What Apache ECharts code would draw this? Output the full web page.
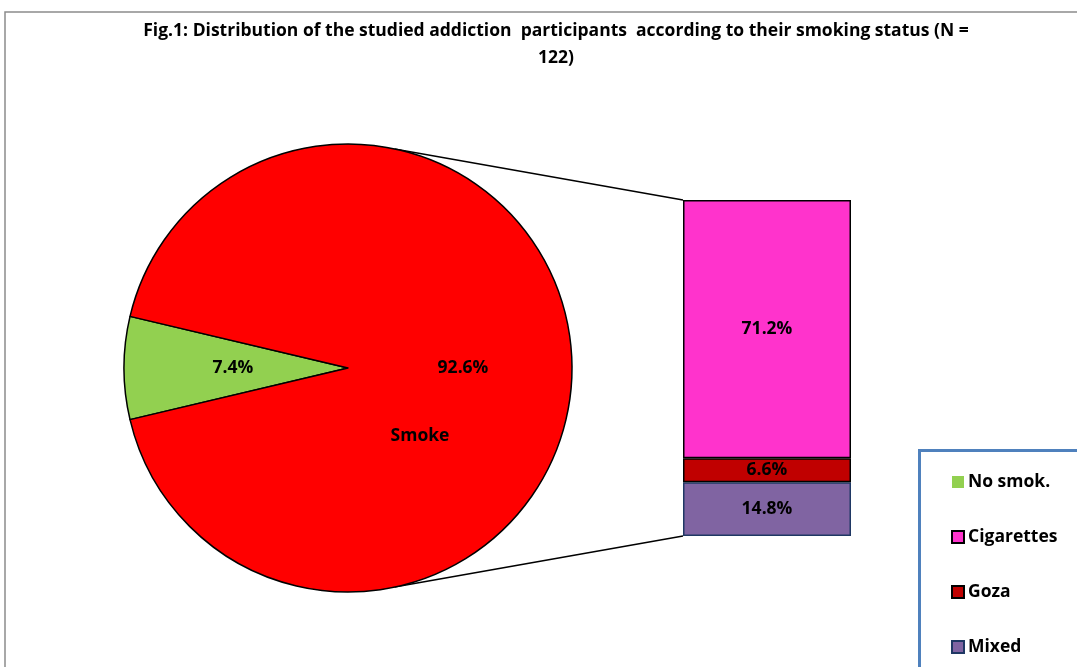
<!DOCTYPE html>
<html>
<head>
<meta charset="utf-8">
<script src="https://cdn.jsdelivr.net/npm/echarts@6/dist/echarts.min.js"></script>
<style>
  html, body { margin: 0; padding: 0; background: #fff; }
  #main { width: 1077px; height: 667px; }
</style>
</head>
<body>
<div id="main"></div>
<script>
// data
const pieNames = ['No smok.', 'Smoke'];
const pieValues = [7.4, 92.6];
const pieColors = ['#92D050', '#FF0000'];

// breakdown of the "Smoke" slice, listed bottom to top
const barNames = ['Mixed', 'Goza', 'Cigarettes'];
const barValues = [14.8, 6.6, 71.2];
const barColors = ['#8064A2', '#C00000', '#FF33CC'];
const barBorders = ['#1F3864', '#000000', '#000000'];

const legendOrder = ['No smok.', 'Cigarettes', 'Goza', 'Mixed'];

const FONT = '"Open Sans"';
const center = [348, 368];
const radius = 224;
const barRect = { left: 683, right: 851, top: 200, bottom: 536 };

const smokeTotal = barValues.reduce((a, b) => a + b, 0);
// green slice sits centred on the left side
const startAngle = 180 + pieValues[0] / 100 * 360 / 2;

let myChart = echarts.init(document.getElementById('main'));

// points on the pie where the connector lines leave
function piePoint (deg) {
  let r = deg * Math.PI / 180;
  return [center[0] + radius * Math.cos(r), center[1] - radius * Math.sin(r)];
}
let pTop = piePoint(78);
let pBot = piePoint(-78);

let labelStyle = {
  color: '#000',
  fontFamily: FONT,
  fontWeight: 'bold',
  fontSize: 17.5
};

let barSeries = barNames.map((name, i) => ({
  name: name,
  type: 'bar',
  stack: 'smoke',
  barWidth: '100%',
  data: [barValues[i]],
  itemStyle: { color: barColors[i], borderColor: barBorders[i], borderWidth: 1.5 },
  label: Object.assign({
    show: true,
    position: 'inside',
    formatter: p => p.value.toFixed(1) + '%'
  }, labelStyle),
  z: 3
}));

let option = {
  backgroundColor: '#fff',
  animation: false,
  title: {
    text: 'Fig.1: Distribution of the studied addiction  participants  according to their smoking status (N =\n122)',
    left: 551,
    top: 13,
    textAlign: 'center',
    textStyle: {
      fontFamily: FONT,
      fontWeight: 'bold',
      fontSize: 17.5,
      lineHeight: 27,
      color: '#000'
    }
  },
  legend: {
    orient: 'vertical',
    left: 918,
    top: 448,
    padding: [24, 0, 0, 33],
    itemWidth: 12,
    itemHeight: 12,
    itemGap: 35,
    icon: 'rect',
    data: legendOrder.map(n => n === 'No smok.' ? { name: n, itemStyle: { borderWidth: 0 } } : n),
    textStyle: Object.assign({ lineHeight: 20, padding: [0, 0, 0, -1] }, labelStyle)
  },
  grid: {
    left: barRect.left,
    right: 1077 - barRect.right,
    top: barRect.top,
    bottom: 667 - barRect.bottom
  },
  xAxis: { type: 'category', data: ['Smoke'], show: false },
  yAxis: { type: 'value', min: 0, max: smokeTotal, show: false },
  graphic: [
    {
      type: 'rect',
      shape: { x: 5, y: 12, width: 1200, height: 800 },
      style: { fill: null, stroke: '#8C8C8C', lineWidth: 1.5 },
      z: 0
    },
    {
      // legend frame, runs off the right and bottom edges
      type: 'rect',
      shape: { x: 919.5, y: 450.5, width: 300, height: 300 },
      style: { fill: '#fff', stroke: '#4F81BD', lineWidth: 3 },
      z: 0
    },
    {
      type: 'line',
      shape: { x1: pTop[0], y1: pTop[1], x2: barRect.left, y2: barRect.top },
      style: { stroke: '#000', lineWidth: 1.5 },
      z: 1
    },
    {
      type: 'line',
      shape: { x1: pBot[0], y1: pBot[1], x2: barRect.left, y2: barRect.bottom },
      style: { stroke: '#000', lineWidth: 1.5 },
      z: 1
    },
    {
      type: 'text',
      x: 420,
      y: 436,
      style: {
        text: pieNames[1],
        font: 'bold 17.5px ' + FONT,
        fill: '#000',
        align: 'center',
        verticalAlign: 'middle'
      },
      z: 10
    }
  ],
  series: [
    {
      name: 'Smoking status',
      type: 'pie',
      center: center,
      radius: radius,
      startAngle: startAngle,
      clockwise: true,
      data: pieNames.map((n, i) => ({ name: n, value: pieValues[i], itemStyle: { color: pieColors[i] } })),
      itemStyle: { borderColor: '#000', borderWidth: 1.5 },
      label: Object.assign({
        show: true,
        position: 'inside',
        formatter: p => p.value.toFixed(1) + '%'
      }, labelStyle),
      labelLine: { show: false },
      emphasis: { disabled: true },
      z: 2
    }
  ].concat(barSeries)
};

myChart.setOption(option);
</script>
</body>
</html>
